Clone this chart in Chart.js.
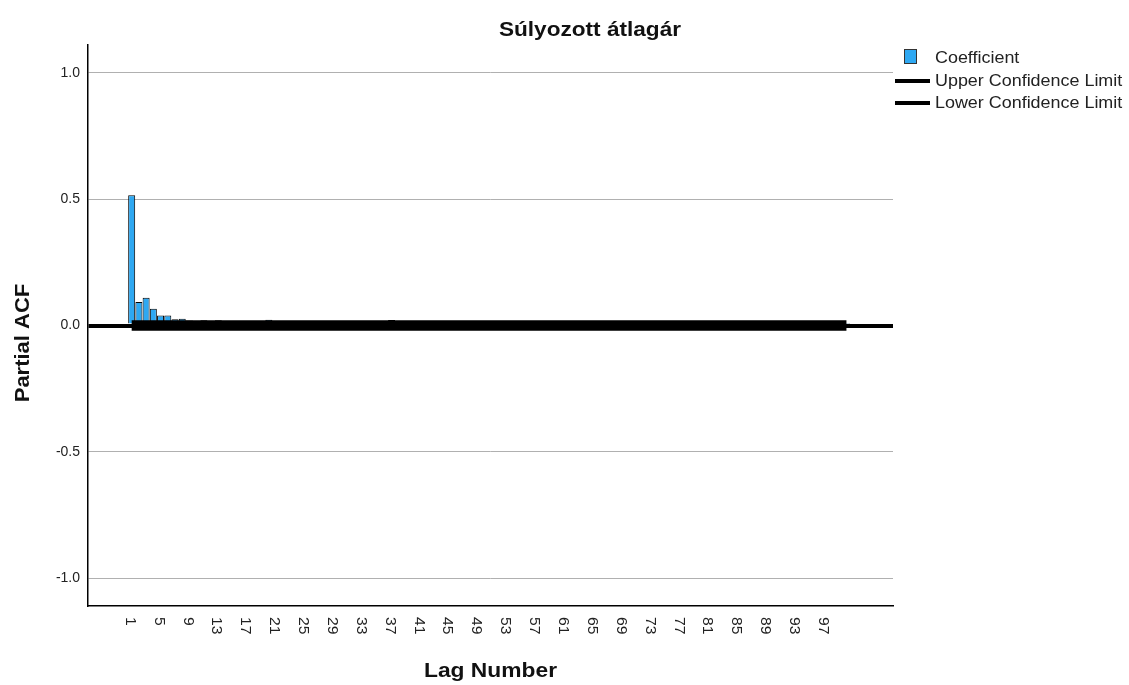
<!DOCTYPE html>
<html>
<head>
<meta charset="utf-8">
<script src="https://cdn.jsdelivr.net/npm/chart.js@4"></script>
<style>
  body { margin: 0; background: #fff; }
  #wrap { width: 1129px; height: 685px; }
</style>
</head>
<body>
<div id="wrap"><canvas id="pacfChart" width="1129" height="685"></canvas></div>
<script>
const chartTitle = 'Súlyozott átlagár';
const xTitle = 'Lag Number';
const yTitle = 'Partial ACF';
const legendLabels = ['Coefficient', 'Upper Confidence Limit', 'Lower Confidence Limit'];

const lags = [];
for (let i = 1; i <= 100; i++) lags.push(i);

const coefficient = [
    0.515, 0.093, 0.110, 0.066, 0.040, 0.040, 0.025, 0.027, 0.020, 0.015,
    0.021, 0.012, 0.021, 0.009, 0.011, 0.008, 0.012, 0.010, 0.007, 0.023,
    0.009, 0.006, 0.011, 0.008, 0.010, 0.007, 0.005, 0.009, 0.008, 0.006,
    0.010, 0.007, 0.009, 0.005, 0.008, 0.006, 0.022, 0.008, 0.007, 0.010,
    0.006, 0.008, 0.005, 0.009, 0.007, 0.006, 0.008, 0.010, 0.005, 0.007,
    0.009, 0.006, 0.008, 0.004, 0.007, 0.009, 0.006, 0.005, 0.008, 0.007,
    0.006, 0.009, 0.005, 0.007, 0.008, 0.006, 0.004, 0.007, 0.009, 0.005,
    0.006, 0.008, 0.007, 0.005, 0.006, 0.009, 0.004, 0.007, 0.006, 0.008,
    0.005, 0.007, 0.006, 0.004, 0.008, 0.006, 0.005, 0.007, 0.006, 0.004,
    0.007, 0.005, 0.006, 0.008, 0.004, 0.006, 0.005, 0.007, 0.004, 0.006
];
const upperLimit = lags.map(() => 0.0125);
const lowerLimit = lags.map(() => -0.0125);

const xTickLabels = [1, 5, 9, 13, 17, 21, 25, 29, 33, 37, 41, 45, 49, 53, 57, 61, 65, 69, 73, 77, 81, 85, 89, 93, 97];
const yTickValues = [-1.0, -0.5, 0.0, 0.5, 1.0];

const fontFamily = '"Liberation Sans", Arial, sans-serif';
const barColor = '#2ea8f2';

const toPoints = (values) => values.map((v, i) => ({ x: lags[i], y: v }));

// SPSS text looks a bit wider than Arial, so stretch it along the reading direction
function stretchedText(ctx, text, x, y, angle, stretch) {
    ctx.save();
    ctx.translate(x, y);
    ctx.rotate(angle);
    ctx.scale(stretch, 1);
    ctx.fillText(text, 0, 0);
    ctx.restore();
}

const textPlugin = {
    id: 'spssText',
    afterDraw(chart) {
        const ctx = chart.ctx;
        const xScale = chart.scales.x;
        const area = chart.chartArea;
        ctx.save();
        ctx.fillStyle = '#111';
        ctx.textAlign = 'center';
        ctx.textBaseline = 'middle';

        ctx.font = 'bold 20px ' + fontFamily;
        stretchedText(ctx, chartTitle, 590, 30, 0, 1.13);
        stretchedText(ctx, xTitle, (area.left + area.right) / 2, 671, 0, 1.14);
        stretchedText(ctx, yTitle, 23, 343, -Math.PI / 2, 1.1);

        ctx.font = '14px ' + fontFamily;
        ctx.fillStyle = '#222';
        ctx.textAlign = 'left';
        for (let i = 0; i < xTickLabels.length; i++) {
            const px = xScale.getPixelForValue(xTickLabels[i]) - 2;
            stretchedText(ctx, String(xTickLabels[i]), px, 617, Math.PI / 2, 1.12);
        }

        // legend
        ctx.font = '16px ' + fontFamily;
        ctx.fillStyle = barColor;
        ctx.fillRect(904, 49, 13, 15);
        ctx.strokeStyle = '#333';
        ctx.lineWidth = 1;
        ctx.strokeRect(904.5, 49.5, 12, 14);
        ctx.fillStyle = '#222';
        stretchedText(ctx, legendLabels[0], 935, 59, 0, 1.12);
        ctx.strokeStyle = '#000';
        ctx.lineWidth = 4;
        ctx.beginPath();
        ctx.moveTo(895, 81);
        ctx.lineTo(930, 81);
        ctx.moveTo(895, 103);
        ctx.lineTo(930, 103);
        ctx.stroke();
        stretchedText(ctx, legendLabels[1], 935, 82, 0, 1.12);
        stretchedText(ctx, legendLabels[2], 935, 104, 0, 1.12);
        ctx.restore();
    }
};

const ctx = document.getElementById('pacfChart');
const myChart = new Chart(ctx, {
    type: 'bar',
    data: {
        datasets: [
            {
                type: 'line',
                label: legendLabels[1],
                data: toPoints(upperLimit),
                borderColor: '#000',
                borderWidth: 4,
                pointRadius: 0,
                order: 0,
            },
            {
                type: 'line',
                label: legendLabels[2],
                data: toPoints(lowerLimit),
                borderColor: '#000',
                borderWidth: 4,
                pointRadius: 0,
                order: 0,
            },
            {
                label: legendLabels[0],
                data: toPoints(coefficient),
                backgroundColor: barColor,
                borderColor: '#000',
                borderWidth: 1,
                barPercentage: 1,
                categoryPercentage: 0.97,
                order: 1,
            },
        ],
    },
    options: {
        responsive: false,
        animation: false,
        devicePixelRatio: 1,
        layout: {
            padding: { top: 45, right: 236, left: 0, bottom: 0 },
        },
        plugins: {
            legend: { display: false },
            title: { display: false },
            tooltip: { enabled: false },
        },
        scales: {
            x: {
                type: 'linear',
                offset: false,
                min: -5.05,
                max: 106.45,
                grid: { display: false, drawTicks: false },
                border: { display: true, color: '#000', width: 1.5 },
                ticks: { display: false },
                afterFit: (scale) => { scale.height = 79; },
            },
            y: {
                min: -1.11,
                max: 1.11,
                afterBuildTicks: (scale) => {
                    scale.ticks = yTickValues.map((v) => ({ value: v }));
                },
                grid: {
                    drawTicks: false,
                    color: (c) => (c.tick && c.tick.value === 0 ? '#000' : '#b0b0b0'),
                    lineWidth: (c) => (c.tick && c.tick.value === 0 ? 4 : 1),
                },
                border: { display: true, color: '#000', width: 1.5 },
                ticks: {
                    padding: 8,
                    color: '#222',
                    font: { family: fontFamily, size: 14 },
                    callback: (v) => Number(v).toFixed(1),
                },
                afterFit: (scale) => { scale.width = 88; },
            },
        },
    },
    plugins: [textPlugin],
});
</script>
</body>
</html>
